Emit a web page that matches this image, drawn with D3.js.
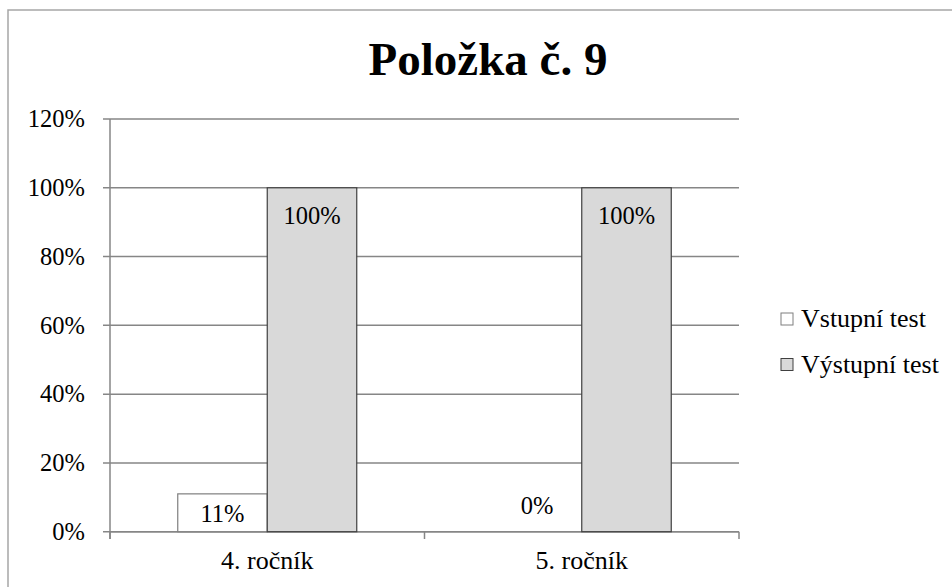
<!DOCTYPE html>
<html>
<head>
<meta charset="utf-8">
<script src="https://cdn.jsdelivr.net/npm/d3@7/dist/d3.min.js"></script>
<style>
  body { margin: 0; background: #fff; }
</style>
</head>
<body>
<div class="chart"></div>
<script>
const categories = ['4. ročník', '5. ročník'];
const seriesNames = ['Vstupní test', 'Výstupní test'];
const vstupni = [0.11, 0];
const vystupni = [1.0, 1.0];
const yTicks = [0, 0.2, 0.4, 0.6, 0.8, 1.0, 1.2];
const colors = ['#ffffff', '#d9d9d9'];
const strokes = ['#7f7f7f', '#404040'];

const width = 952, height = 587;
const font = 'Liberation Serif, Times New Roman, serif';

const svg = d3.select('.chart').append('svg')
    .attr('width', width)
    .attr('height', height)
    .attr('font-family', font);

// outer chart frame (runs off the right/bottom edge)
svg.append('rect')
    .attr('x', 8).attr('y', 10)
    .attr('width', 960).attr('height', 600)
    .attr('fill', '#fff')
    .attr('stroke', '#a6a6a6')
    .attr('stroke-width', 1.5);

svg.append('text')
    .attr('x', 488).attr('y', 75)
    .attr('text-anchor', 'middle')
    .attr('font-family', font)
    .attr('font-size', 47)
    .attr('font-weight', 700)
    .text('Položka č. 9');

const x = d3.scaleBand()
    .domain(categories)
    .range([110, 739]);

const xs = d3.scaleBand()
    .domain(seriesNames)
    .range([0, x.bandwidth()])
    .paddingInner(0)
    .paddingOuter(0.757);

const y = d3.scaleLinear()
    .domain([0, 1.2])
    .range([531.7, 119]);

// gridlines
svg.append('g')
  .selectAll('line')
  .data(yTicks)
  .enter().append('line')
    .attr('x1', 103).attr('x2', 739)
    .attr('y1', d => y(d)).attr('y2', d => y(d))
    .attr('stroke', '#868686')
    .attr('stroke-width', 1.5);

// y axis
const yAxis = svg.append('g')
    .attr('transform', 'translate(110,0)')
    .call(d3.axisLeft(y).tickValues(yTicks).tickSize(0).tickPadding(25)
      .tickFormat(d => Math.round(d * 100) + '%'));
yAxis.attr('font-family', font).attr('font-size', 24.5);
yAxis.select('.domain').remove();
yAxis.selectAll('text').attr('fill', '#000');

svg.append('line')
    .attr('x1', 110).attr('x2', 110)
    .attr('y1', y(1.2)).attr('y2', 539)
    .attr('stroke', '#868686').attr('stroke-width', 1.5);

// x axis
const xAxis = svg.append('g')
    .attr('transform', 'translate(0,' + y(0) + ')')
    .call(d3.axisBottom(x).tickSize(0).tickPadding(19));
xAxis.attr('font-family', font).attr('font-size', 26);
xAxis.select('.domain').remove();
xAxis.selectAll('text').attr('fill', '#000');

svg.append('line')
    .attr('x1', 110).attr('x2', 739)
    .attr('y1', y(0)).attr('y2', y(0))
    .attr('stroke', '#868686').attr('stroke-width', 1.5);

svg.append('g')
  .selectAll('line')
  .data([110, 110 + x.bandwidth(), 739])
  .enter().append('line')
    .attr('x1', d => d).attr('x2', d => d)
    .attr('y1', y(0)).attr('y2', 539)
    .attr('stroke', '#868686').attr('stroke-width', 1.5);

// bars
const rows = [];
categories.forEach((c, i) => {
  rows.push({ cat: c, s: 0, v: vstupni[i] });
  rows.push({ cat: c, s: 1, v: vystupni[i] });
});

const bars = svg.append('g')
  .selectAll('g')
  .data(rows)
  .enter().append('g');

bars.filter(d => d.v > 0).append('rect')
    .attr('x', d => x(d.cat) + xs(seriesNames[d.s]))
    .attr('y', d => y(d.v))
    .attr('width', xs.bandwidth())
    .attr('height', d => y(0) - y(d.v))
    .attr('fill', d => colors[d.s])
    .attr('stroke', d => strokes[d.s])
    .attr('stroke-width', 1.2);

bars.append('text')
    .attr('x', d => x(d.cat) + xs(seriesNames[d.s]) + xs.bandwidth() / 2)
    .attr('y', d => {
      const h = y(0) - y(d.v);
      if (h > 60) return y(d.v) + 36;
      if (h > 30) return (y(d.v) + y(0)) / 2 + 9;
      return y(0) - 18;
    })
    .attr('text-anchor', 'middle')
    .attr('font-family', font)
    .attr('font-size', 24.5)
    .text(d => Math.round(d.v * 100) + '%');

// legend
const legend = svg.append('g')
  .selectAll('g')
  .data(seriesNames)
  .enter().append('g')
    .attr('transform', (d, i) => 'translate(781,' + (313 + i * 45.5) + ')');

legend.append('rect')
    .attr('width', 12).attr('height', 12)
    .attr('fill', (d, i) => colors[i])
    .attr('stroke', (d, i) => strokes[i])
    .attr('stroke-width', 1);

legend.append('text')
    .attr('x', 20).attr('y', 14)
    .attr('font-family', font)
    .attr('font-size', 26)
    .text(d => d);
</script>
</body>
</html>
